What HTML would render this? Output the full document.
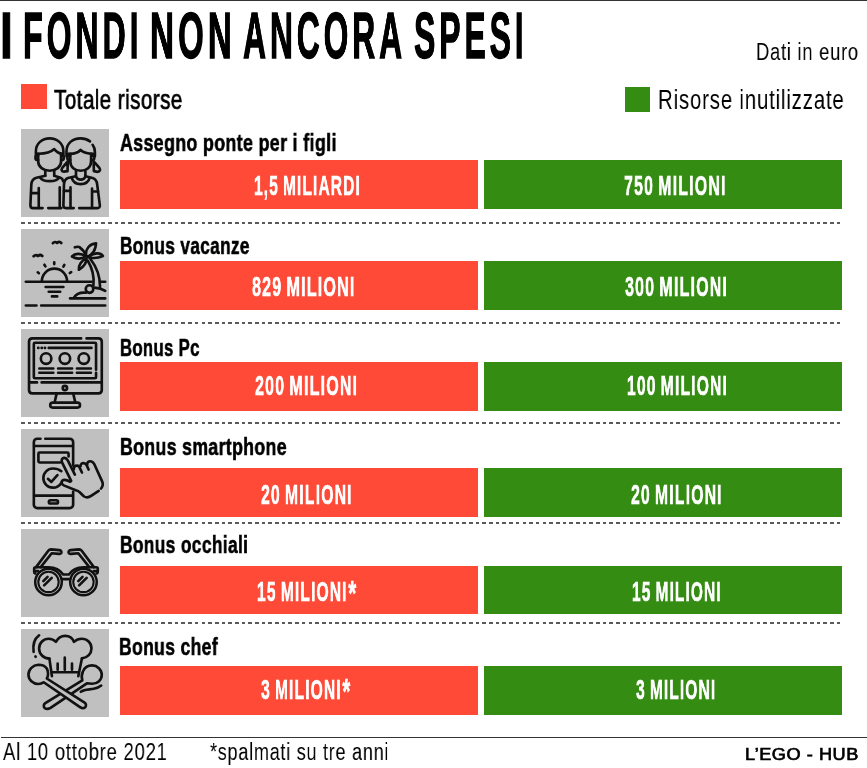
<!DOCTYPE html>
<html><head><meta charset="utf-8"><style>
html,body{margin:0;padding:0;background:#fff;width:867px;height:768px;overflow:hidden;position:relative}
.t{position:absolute;will-change:transform;font-family:"Liberation Sans",sans-serif;line-height:1;white-space:nowrap;transform-origin:0 0}
.box{position:absolute;left:21px;width:88px;height:87.5px;overflow:hidden;background:#c0c0c0}
.box svg{display:block}
.bar{position:absolute}
.dash{position:absolute;left:21px;width:820px;height:2px;background:repeating-linear-gradient(90deg,#5a5a5a 0,#5a5a5a 3.6px,transparent 3.6px,transparent 6.687px)}
.hl{position:absolute;height:1px;background:#333}
.sq{position:absolute}
</style></head><body>
<div class="hl" style="left:0;top:0;width:867px;height:1.4px"></div>
<div class="sq" style="left:21px;top:83.5px;width:25.5px;height:25.3px;background:#fe4a37"></div>
<div class="sq" style="left:624.9px;top:87px;width:25.4px;height:25.3px;background:#358c13"></div>
<div class="box" style="top:129px"><svg width="88" height="88" viewBox="0 0 768 768"><g fill="none" stroke="#111" stroke-width="23" stroke-linecap="round" stroke-linejoin="round">
<path d="M130,238 V195 C130,125 185,82 250,82 C315,82 370,125 370,195 V238"/>
<path d="M142,216 C205,218 255,208 290,175 C315,205 335,214 360,216"/>
<path d="M150,230 C135,230 126,238 126,250 C126,262 135,272 150,272 M350,230 C365,230 374,238 374,250 C374,262 365,272 350,272"/>
<path d="M150,216 V282 C150,332 195,364 250,364 C305,364 350,332 350,282 V216"/>
<path d="M212,366 V408 M290,366 V408"/>
<path d="M168,425 C195,465 305,465 332,425"/>
<path d="M212,408 L135,425 C105,433 92,455 90,485 L82,665 C82,680 90,690 105,690 H188"/>
<path d="M92,560 H152 M155,515 V688"/>
<path d="M290,408 L345,425 C360,430 365,440 368,455"/>
<path d="M338,510 V690 M238,690 H352"/>
<path d="M397,238 V195 C397,125 450,82 520,82 C555,82 585,95 602,108"/>
<path d="M625,138 C640,158 645,178 645,200 V238"/>
<path d="M412,216 C465,218 500,208 520,182 C545,208 590,216 630,216"/>
<path d="M430,230 C414,230 404,238 404,250 C404,262 414,272 430,272 M612,230 C628,230 640,238 640,250 C640,262 628,272 612,272"/>
<path d="M430,216 V282 C430,332 470,364 521,364 C572,364 612,332 612,282 V216"/>
<path d="M408,282 L360,340 C348,356 355,372 375,372 L406,368 Z M634,282 L684,340 C696,356 690,374 668,374 L636,368 Z"/>
<path d="M480,366 V412 M562,366 V412"/>
<path d="M442,425 C462,500 580,500 600,425"/>
<path d="M478,412 C495,452 548,452 564,412"/>
<path d="M478,412 L410,428 C388,436 377,455 375,485 L370,668 C370,682 378,690 392,690 H460"/>
<path d="M562,412 L625,428 C652,436 662,455 665,485 L688,665 C690,680 682,690 668,690 H508"/>
<path d="M432,510 V688 M620,520 V688 M622,545 H672 M375,540 H430"/>
</g>
</svg></div>
<div class="bar" style="left:120px;width:358.2px;top:160.0px;height:48.8px;background:#fe4a37"></div>
<div class="bar" style="left:484px;width:358.4px;top:160.0px;height:48.8px;background:#358c13"></div>
<div class="dash" style="top:222px"></div>
<div class="box" style="top:229px"><svg width="88" height="88" viewBox="0 0 768 768"><g fill="none" stroke="#111" stroke-width="23" stroke-linecap="round" stroke-linejoin="round">
<path d="M278,124 Q296,104 315,122 Q335,104 352,122"/>
<path d="M110,238 Q129,218 148,236 Q168,218 186,236"/>
<path d="M146,378 L156,386 M204,312 L213,326 M290,290 V306 M378,314 L370,328 M438,376 L426,384"/>
<path d="M182,456 A110,110 0 0 1 402,456"/>
<path d="M42,460 H615 M692,460 H735"/>
<path d="M215,506 H370 M242,548 H342 M270,588 H316"/>
<path d="M582,275 C618,335 640,420 632,492 M606,262 C655,325 690,420 690,505"/>
<circle cx="598" cy="524" r="33"/>
<path d="M462,600 C482,565 525,552 566,556 M642,512 C682,514 712,525 735,540"/>
<path d="M428,606 H735 M42,668 H135 M176,668 H735"/>
<path d="M568,232 C562,170 600,130 655,125 C652,185 625,222 580,242"/>
<path d="M586,246 C630,208 690,200 715,236 C672,256 630,258 586,246 Z"/>
<path d="M565,238 C522,208 470,212 445,240 C490,266 532,262 565,238 Z"/>
<path d="M572,258 C530,272 500,312 505,356 C546,332 572,298 572,258 Z"/>
<path d="M470,160 C492,152 502,152 515,160 M512,160 C540,180 555,200 565,228"/>
</g>
</svg></div>
<div class="bar" style="left:120px;width:358.2px;top:261.2px;height:48.4px;background:#fe4a37"></div>
<div class="bar" style="left:484px;width:358.4px;top:261.2px;height:48.4px;background:#358c13"></div>
<div class="dash" style="top:322px"></div>
<div class="box" style="top:329px"><svg width="88" height="88" viewBox="0 0 768 768"><g fill="none" stroke="#111" stroke-width="23" stroke-linecap="round" stroke-linejoin="round">
<path d="M525,82 H100 C82,82 70,94 70,112 V532 C70,550 82,562 100,562 H675 C693,562 705,550 705,532 V112 C705,94 693,82 675,82 H572"/>
<path d="M655,355 V130 C655,124 651,120 645,120 H122 C116,120 112,124 112,130 V420 C112,426 116,430 122,430 H645 C651,430 655,426 655,420 V382"/>
<path d="M75,466 H140 M180,466 H700"/>
<circle cx="383" cy="515" r="19"/>
<path d="M310,568 L293,642 M457,568 L474,642"/>
<path d="M277,642 H493 C505,642 515,652 515,664 C515,676 505,686 493,686 H277 C265,686 255,676 255,664 C255,652 265,642 277,642 Z"/>
<path d="M150,165 H152 M180,165 H182 M208,165 H210 M242,165 H615"/>
<circle cx="219" cy="258" r="46"/>
<circle cx="383" cy="258" r="46"/>
<circle cx="548" cy="258" r="46"/>
<path d="M160,345 H282 M324,345 H446 M488,345 H610 M160,382 H282 M324,382 H446 M488,382 H610"/>
</g>
</svg></div>
<div class="bar" style="left:120px;width:358.2px;top:361.9px;height:48.8px;background:#fe4a37"></div>
<div class="bar" style="left:484px;width:358.4px;top:361.9px;height:48.8px;background:#358c13"></div>
<div class="dash" style="top:422px"></div>
<div class="box" style="top:429px"><svg width="88" height="88" viewBox="0 0 768 768"><g fill="none" stroke="#111" stroke-width="23" stroke-linecap="round" stroke-linejoin="round">
<path d="M170,85 H142 C125,85 112,98 112,115 V660 C112,677 125,690 142,690 H425 C442,690 455,677 455,660 V548"/>
<path d="M455,318 V115 C455,98 442,85 425,85 H212"/>
<path d="M115,148 H452 M115,582 H452"/>
<path d="M258,622 H308 C316,622 323,628 323,636 C323,644 316,650 308,650 H258 C250,650 243,644 243,636 C243,628 250,622 258,622 Z"/>
<path d="M340,292 H162 C156,292 152,288 152,282 V215 C152,209 156,205 162,205 H405 C411,205 415,209 415,215 V240"/>
<path d="M352,368 C332,352 305,345 278,345 C232,345 195,382 195,428 C195,474 232,512 278,512 C310,512 338,495 352,470"/>
<path d="M235,435 L265,462 L318,402"/>
<path d="M438,452 L358,292 C350,272 358,254 375,252 C390,250 400,260 408,274 L470,398"/>
<path d="M462,352 C458,332 470,320 488,320 C502,320 512,330 515,344 L532,380"/>
<path d="M520,324 C518,307 530,297 548,298 C562,299 570,308 575,320 L590,354"/>
<path d="M578,312 C575,292 590,280 608,282 C622,284 632,294 640,307 L708,457 C718,480 715,502 698,520"/>
<path d="M678,540 L612,584 C592,598 568,600 548,587 L510,550 C500,542 490,537 478,534 L378,494 C355,484 348,464 360,452 C372,440 395,442 430,460"/>
</g>
</svg></div>
<div class="bar" style="left:120px;width:358.2px;top:467.9px;height:48.8px;background:#fe4a37"></div>
<div class="bar" style="left:484px;width:358.4px;top:467.9px;height:48.8px;background:#358c13"></div>
<div class="dash" style="top:522px"></div>
<div class="box" style="top:529px"><svg width="88" height="88" viewBox="0 0 768 768"><g fill="none" stroke="#111" stroke-width="23" stroke-linecap="round" stroke-linejoin="round">
<path d="M132,333 L238,190 C244,182 252,178 262,178 L335,184 C350,186 356,198 352,208 C348,216 340,218 330,217 L268,212 L172,333"/>
<path d="M636,333 L530,190 C524,182 516,178 506,178 L433,184 C418,186 412,198 416,208 C420,216 428,218 438,217 L500,212 L596,333"/>
<path d="M125,388 C118,386 115,380 115,372 V345 C115,338 120,334 128,334 H240 C295,334 342,358 368,397 H418 C444,358 490,334 545,334 H657 C665,334 670,338 670,345 V372 C670,380 667,386 660,388"/>
<path d="M118,368 H150 M635,368 H668"/>
<circle cx="240" cy="462" r="116" stroke-width="22"/>
<circle cx="240" cy="462" r="89" stroke-width="18"/>
<circle cx="545" cy="462" r="116" stroke-width="22"/>
<circle cx="545" cy="462" r="89" stroke-width="18"/>
<path d="M358,437 H428"/>
<path d="M195,455 L232,418 M202,492 L268,426 M500,455 L537,418 M507,492 L573,426"/>
</g>
</svg></div>
<div class="bar" style="left:120px;width:358.2px;top:565.7px;height:48.1px;background:#fe4a37"></div>
<div class="bar" style="left:484px;width:358.4px;top:565.7px;height:48.1px;background:#358c13"></div>
<div class="dash" style="top:622px"></div>
<div class="box" style="top:629px"><svg width="88" height="88" viewBox="0 0 768 768"><g fill="none" stroke="#111" stroke-width="23" stroke-linecap="round" stroke-linejoin="round">
<path d="M248,258 C195,255 158,218 158,170 C158,122 196,85 242,85 C268,85 290,96 305,112 C322,80 352,60 385,60 C420,60 450,80 462,112 C480,95 505,85 530,85 C578,85 615,122 615,170 C615,215 580,252 532,256"/>
<path d="M248,258 L270,412 M532,256 L500,412 M275,377 H500"/>
<path d="M320,302 V355 M382,250 V355 M445,302 V355"/>
<path d="M158,55 C118,85 102,140 110,200 M126,240 L128,242"/>
<path d="M522,548 C555,524 595,530 635,522 C665,516 688,504 700,494"/>
<path d="M535,448 L212,646 C195,657 195,680 208,690 C222,700 240,698 258,688 L575,474 C590,477 606,478 622,478 C668,478 705,445 705,400 C705,355 665,318 622,318 C585,318 555,335 540,372 C530,395 527,425 535,448 Z" fill="#c0c0c0"/>
<path d="M225,432 C240,410 240,370 225,345 C208,318 180,312 150,312 C105,315 65,352 65,398 C65,445 105,480 150,480 C168,480 185,475 198,465 L515,682 C530,692 548,695 560,683 C572,670 568,650 555,642 Z" fill="#c0c0c0"/>
</g>
</svg></div>
<div class="bar" style="left:120px;width:358.2px;top:666.2px;height:48.4px;background:#fe4a37"></div>
<div class="bar" style="left:484px;width:358.4px;top:666.2px;height:48.4px;background:#358c13"></div>
<div class="hl" style="left:1px;top:737px;width:866px"></div>
<div class="t" style="left:-0.04px;top:2.82px;font-size:65.21px;font-weight:700;transform:scaleX(0.6996);letter-spacing:0.12em;word-spacing:0em;color:#000;-webkit-text-stroke:0.02em #000">I</div>
<div class="t" style="left:23.07px;top:2.82px;font-size:65.21px;font-weight:700;transform:scaleX(0.4936);letter-spacing:0.12em;word-spacing:0em;color:#000;-webkit-text-stroke:0.02em #000">FONDI</div>
<div class="t" style="left:149.89px;top:2.82px;font-size:65.21px;font-weight:700;transform:scaleX(0.5092);letter-spacing:0.12em;word-spacing:0em;color:#000;-webkit-text-stroke:0.02em #000">NON</div>
<div class="t" style="left:243.28px;top:2.82px;font-size:65.21px;font-weight:700;transform:scaleX(0.4891);letter-spacing:0.12em;word-spacing:0em;color:#000;-webkit-text-stroke:0.02em #000">ANCORA</div>
<div class="t" style="left:414.46px;top:2.82px;font-size:65.21px;font-weight:700;transform:scaleX(0.4907);letter-spacing:0.12em;word-spacing:0em;color:#000;-webkit-text-stroke:0.02em #000">SPESI</div>
<div class="t" style="left:756.09px;top:40.10px;font-size:24.64px;font-weight:400;transform:scaleX(0.7467);letter-spacing:0.04em;word-spacing:0em;color:#000;-webkit-text-stroke:0em #000">Dati in euro</div>
<div class="t" style="left:54.09px;top:85.76px;font-size:27.18px;font-weight:400;transform:scaleX(0.7608);letter-spacing:0.02em;word-spacing:0em;color:#000;-webkit-text-stroke:0.025em #000">Totale risorse</div>
<div class="t" style="left:657.87px;top:85.86px;font-size:28.12px;font-weight:400;transform:scaleX(0.7264);letter-spacing:0.04em;word-spacing:0em;color:#000;-webkit-text-stroke:0em #000">Risorse inutilizzate</div>
<div class="t" style="left:120.14px;top:130.71px;font-size:23.94px;font-weight:700;transform:scaleX(0.7440);letter-spacing:0.02em;word-spacing:0em;color:#000;-webkit-text-stroke:0.025em #000">Assegno ponte per i figli</div>
<div class="t" style="left:119.94px;top:234.93px;font-size:23.38px;font-weight:700;transform:scaleX(0.7360);letter-spacing:0.02em;word-spacing:0em;color:#000;-webkit-text-stroke:0.025em #000">Bonus vacanze</div>
<div class="t" style="left:120.22px;top:336.21px;font-size:23.94px;font-weight:700;transform:scaleX(0.6982);letter-spacing:0.02em;word-spacing:0em;color:#000;-webkit-text-stroke:0.025em #000">Bonus Pc</div>
<div class="t" style="left:119.92px;top:434.91px;font-size:23.80px;font-weight:700;transform:scaleX(0.7435);letter-spacing:0.02em;word-spacing:0em;color:#000;-webkit-text-stroke:0.025em #000">Bonus smartphone</div>
<div class="t" style="left:119.93px;top:532.61px;font-size:23.94px;font-weight:700;transform:scaleX(0.7248);letter-spacing:0.02em;word-spacing:0em;color:#000;-webkit-text-stroke:0.025em #000">Bonus occhiali</div>
<div class="t" style="left:119.22px;top:636.01px;font-size:23.24px;font-weight:700;transform:scaleX(0.7544);letter-spacing:0.02em;word-spacing:0em;color:#000;-webkit-text-stroke:0.025em #000">Bonus chef</div>
<div class="t" style="left:253.72px;top:171.62px;font-size:27.18px;font-weight:700;transform:scaleX(0.5730);letter-spacing:0.07em;word-spacing:-0.09em;color:#fff;-webkit-text-stroke:0.025em #fff">1,5 MILIARDI</div>
<div class="t" style="left:624.18px;top:171.62px;font-size:27.18px;font-weight:700;transform:scaleX(0.5892);letter-spacing:0.07em;word-spacing:-0.09em;color:#fff;-webkit-text-stroke:0.025em #fff">750 MILIONI</div>
<div class="t" style="left:251.94px;top:272.88px;font-size:28.03px;font-weight:700;transform:scaleX(0.5768);letter-spacing:0.07em;word-spacing:-0.09em;color:#fff;-webkit-text-stroke:0.025em #fff">829 MILIONI</div>
<div class="t" style="left:624.94px;top:272.88px;font-size:28.03px;font-weight:700;transform:scaleX(0.5742);letter-spacing:0.07em;word-spacing:-0.09em;color:#fff;-webkit-text-stroke:0.025em #fff">300 MILIONI</div>
<div class="t" style="left:254.78px;top:371.70px;font-size:28.03px;font-weight:700;transform:scaleX(0.5751);letter-spacing:0.07em;word-spacing:-0.09em;color:#fff;-webkit-text-stroke:0.025em #fff">200 MILIONI</div>
<div class="t" style="left:626.91px;top:371.70px;font-size:28.03px;font-weight:700;transform:scaleX(0.5630);letter-spacing:0.07em;word-spacing:-0.09em;color:#fff;-webkit-text-stroke:0.025em #fff">100 MILIONI</div>
<div class="t" style="left:260.88px;top:480.52px;font-size:28.03px;font-weight:700;transform:scaleX(0.5665);letter-spacing:0.07em;word-spacing:-0.09em;color:#fff;-webkit-text-stroke:0.025em #fff">20 MILIONI</div>
<div class="t" style="left:630.88px;top:480.52px;font-size:28.03px;font-weight:700;transform:scaleX(0.5665);letter-spacing:0.07em;word-spacing:-0.09em;color:#fff;-webkit-text-stroke:0.025em #fff">20 MILIONI</div>
<div class="t" style="left:257.04px;top:578.12px;font-size:27.46px;font-weight:700;transform:scaleX(0.5713);letter-spacing:0.07em;word-spacing:-0.09em;color:#fff;-webkit-text-stroke:0.025em #fff">15 MILIONI<span style="font-size:1.3em;line-height:0;position:relative;top:0.12em;margin-left:0.03em">*</span></div>
<div class="t" style="left:632.42px;top:578.12px;font-size:27.46px;font-weight:700;transform:scaleX(0.5657);letter-spacing:0.07em;word-spacing:-0.09em;color:#fff;-webkit-text-stroke:0.025em #fff">15 MILIONI</div>
<div class="t" style="left:261.04px;top:675.76px;font-size:27.61px;font-weight:700;transform:scaleX(0.5682);letter-spacing:0.07em;word-spacing:-0.09em;color:#fff;-webkit-text-stroke:0.025em #fff">3 MILIONI<span style="font-size:1.3em;line-height:0;position:relative;top:0.12em;margin-left:0.03em">*</span></div>
<div class="t" style="left:636.14px;top:675.76px;font-size:27.61px;font-weight:700;transform:scaleX(0.5643);letter-spacing:0.07em;word-spacing:-0.09em;color:#fff;-webkit-text-stroke:0.025em #fff">3 MILIONI</div>
<div class="t" style="left:3.10px;top:739.86px;font-size:24.64px;font-weight:400;transform:scaleX(0.7518);letter-spacing:0.04em;word-spacing:0em;color:#000;-webkit-text-stroke:0em #000">Al 10 ottobre 2021</div>
<div class="t" style="left:210.04px;top:739.86px;font-size:24.64px;font-weight:400;transform:scaleX(0.7349);letter-spacing:0.04em;word-spacing:0em;color:#000;-webkit-text-stroke:0em #000">*spalmati su tre anni</div>
<div class="t" style="left:744.81px;top:747.04px;font-size:16.71px;font-weight:400;transform:scaleX(1.0868);letter-spacing:0.03em;word-spacing:0em;color:#000;-webkit-text-stroke:0.04em #000">L&#8217;EGO - HUB</div>
</body></html>
